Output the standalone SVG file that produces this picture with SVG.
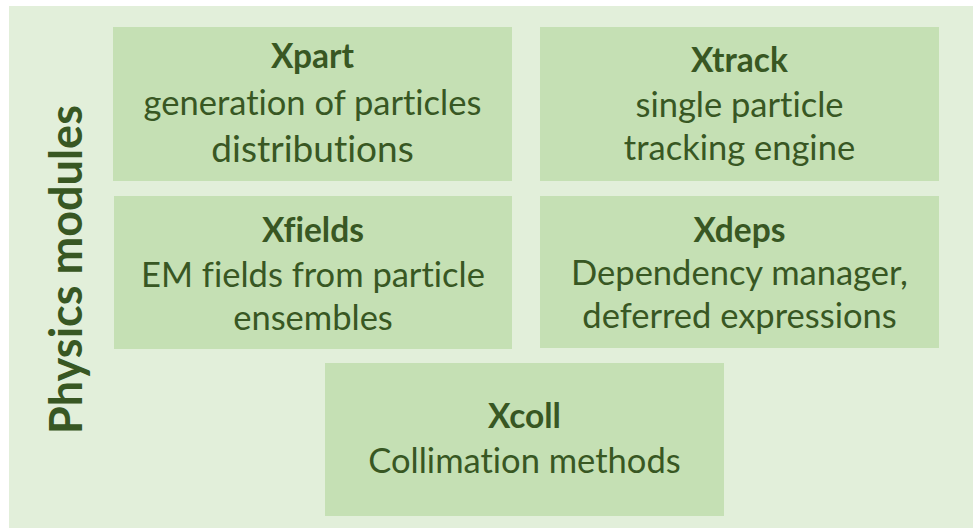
<svg xmlns="http://www.w3.org/2000/svg" width="973" height="528" viewBox="0 0 973 528">
<style>
.bg{fill:#E2EFDA}
.box{fill:#C5E0B4}
text{font-family:Lato,"Open Sans","Liberation Sans",sans-serif;fill:#385723;text-anchor:middle;font-variant-ligatures:none;font-feature-settings:"liga" 0,"clig" 0}
.t{font-weight:bold;font-size:33.5px}
.b{font-size:34.5px}
.big{font-size:37px}
.side{font-weight:bold;font-size:45px}
</style>
<rect class="bg" x="9" y="6" width="964" height="522"/>
<g id="label"><text class="side" transform="translate(82,269.5) rotate(-90)">Physics modules</text></g>
<g id="xpart"><rect class="box" x="113" y="27" width="399" height="154"/>
<text class="t" x="312.5" y="68">Xpart</text>
<text class="b" x="312.5" y="115">generation of particles</text>
<text class="big" x="312.5" y="162">distributions</text></g>
<g id="xtrack"><rect class="box" x="540" y="27" width="399" height="154"/>
<text class="t" x="739.5" y="72">Xtrack</text>
<text class="b" x="739.5" y="117">single particle</text>
<text class="b" x="739.5" y="160">tracking engine</text></g>
<g id="xfields"><rect class="box" x="114" y="196" width="398" height="153"/>
<text class="t" x="313" y="242">Xfields</text>
<text class="b" x="313" y="287">EM fields from particle</text>
<text class="b" x="313" y="330">ensembles</text></g>
<g id="xdeps"><rect class="box" x="540" y="196" width="399" height="152"/>
<text class="t" x="739.5" y="242">Xdeps</text>
<text class="b" x="739.5" y="285">Dependency manager,</text>
<text class="b" x="739.5" y="328">deferred expressions</text></g>
<g id="xcoll"><rect class="box" x="325" y="363" width="399" height="153"/>
<text class="t" x="524.5" y="428">Xcoll</text>
<text class="b" x="524.5" y="473">Collimation methods</text></g>
<g id="connectors"/>
</svg>
